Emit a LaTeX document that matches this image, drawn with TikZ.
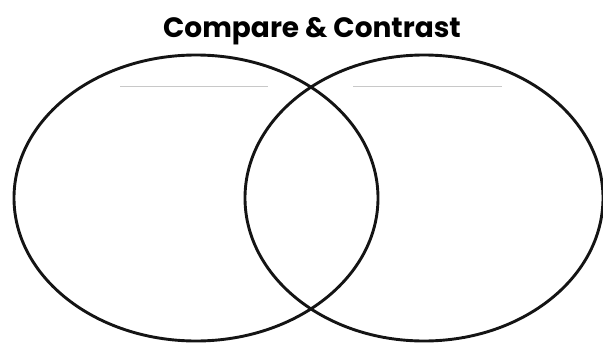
\documentclass[tikz,border=0pt]{standalone}
\usepackage{fontspec}
\newfontfamily\titlefont{Poppins}
\usetikzlibrary{shapes.geometric, positioning}
\definecolor{penline}{HTML}{141414}
\definecolor{writeline}{HTML}{C8C8C8}
\tikzset{
  % cerchio del diagramma
  setring/.style={ellipse, draw=penline, line width=2.9pt, inner sep=0pt,
    minimum width=364pt, minimum height=286pt},
  % riga per il titolo di ogni insieme
  nameline/.style={draw=writeline, line width=1pt},
  % titolo
  headline/.style={font=\titlefont\bfseries\fontsize{28}{32}\selectfont},
}
\begin{document}
\begin{tikzpicture}[x=1pt, y=-1pt]
  \useasboundingbox (0,0) rectangle (603,343);
  \node[headline, anchor=base] (title) at (312,37) {Compare \& Contrast};
  \node[setring] (setA) at (196,198) {};
  \node[setring, minimum width=358pt] (setB) at (424,198) {};
  \coordinate (lineAw) at (120,86); \coordinate (lineAe) at (268,86);
  \coordinate (lineBw) at (353,86); \coordinate (lineBe) at (502,86);
  \draw[nameline] (lineAw) -- (lineAe);
  \draw[nameline] (lineBw) -- (lineBe);
\end{tikzpicture}
\end{document}
